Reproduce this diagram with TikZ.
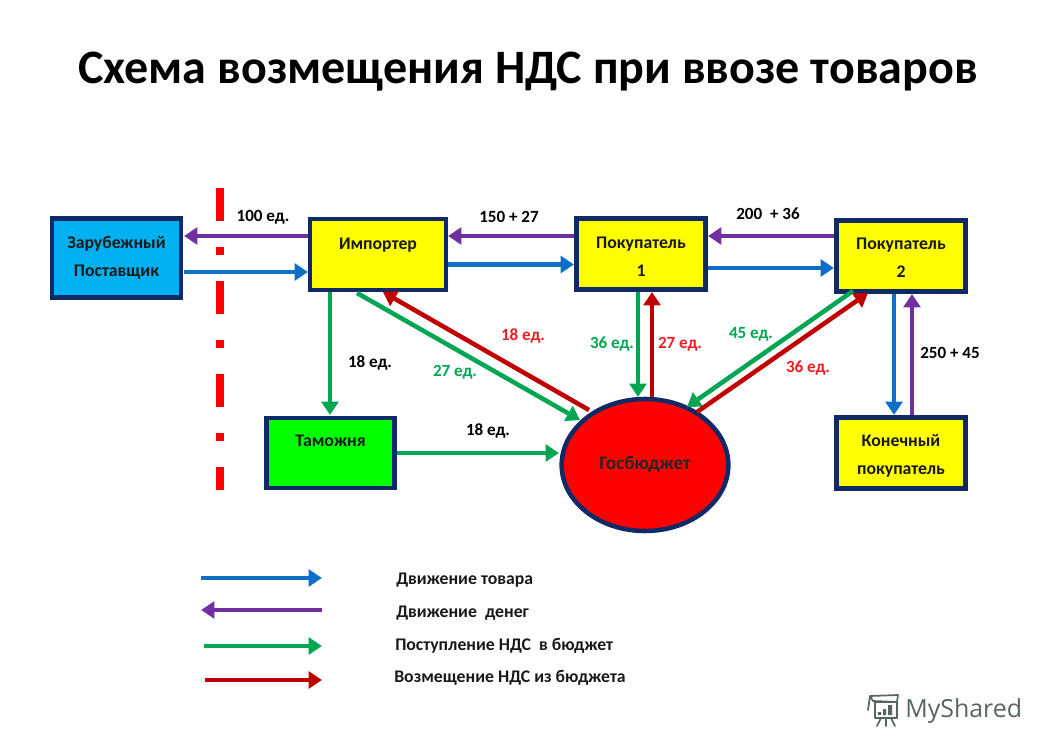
\documentclass[tikz,border=0pt]{standalone}
\usepackage{fontspec}
\setmainfont{Carlito}
\newfontfamily\wmfont{Open Sans}
\usetikzlibrary{arrows.meta,calc,shapes.geometric}
\definecolor{navy}{HTML}{0F2A66}
\definecolor{cpurple}{HTML}{7030A0}
\definecolor{cblue}{HTML}{0F6FC6}
\definecolor{cgreen}{HTML}{00A651}
\definecolor{cdred}{HTML}{C00000}
\definecolor{lred}{HTML}{EE1C25}
\definecolor{sky}{HTML}{00B0F0}
\definecolor{wm}{HTML}{56665F}
\definecolor{fyellow}{HTML}{FFFF00}
\definecolor{flime}{HTML}{00FF00}
\definecolor{fred}{HTML}{FF0000}
\newcommand\dn[1]{\rule{0pt}{#1pt}}
\tikzset{
  pic unit/.style={x=0.75pt,y=-0.75pt},
  box/.style={draw=navy,line width=3.4pt,inner sep=0pt,align=center,font=\fontsize{13.3}{21}\selectfont\bfseries,text=black!90},
  stdbox/.style={box,minimum width=96pt,minimum height=52.5pt},
  wbox/.style={box,minimum width=97pt,minimum height=53.5pt},
  lab/.style={font=\fontsize{12.8}{14}\selectfont\bfseries,inner sep=0pt,text=black},
  leg/.style={font=\fontsize{13.3}{14}\selectfont\bfseries,inner sep=0pt,anchor=west,text=black!90},
  conn/.style={line width=3.4pt,-{Triangle[length=10pt,width=12.5pt]}},
  goods/.style={conn,draw=cblue},
  money/.style={conn,draw=cpurple},
  vatin/.style={conn,draw=cgreen},
  vatout/.style={conn,draw=cdred}
}
\begin{document}
\begin{tikzpicture}[pic unit]
\useasboundingbox (0,0) rectangle (1058,756);
\node[font=\fontsize{36}{42}\selectfont\bfseries,inner sep=0pt] (title) at (528,72) {Схема возмещения НДС при ввозе товаров};
% border line
\coordinate (b1) at (220,188); \coordinate (b2) at (220,490);
\draw[draw=red,line width=5.4pt,dash pattern=on 25.1pt off 19.5pt on 5.6pt off 19.5pt] (b1) -- (b2);
% nodes
\node[wbox,fill=sky,minimum width=97pt,minimum height=59pt] (sup) at (116.5,258) {Зарубежный\\Поставщик};
\node[stdbox,fill=fyellow,minimum width=102pt,minimum height=53pt] (imp) at (378,254.5) {\dn{13}Импортер\\ };
\node[stdbox,fill=flime] (cus) at (330.5,453) {\dn{11}Таможня\\ };
\node[wbox,fill=fyellow] (p1) at (641,254) {\dn{13}Покупатель\\1};
\node[wbox,fill=fyellow] (p2) at (901,256) {\dn{12}Покупатель\\2};
\node[wbox,fill=fyellow] (end) at (901,453) {\dn{14}Конечный\\покупатель};
\node[ellipse,draw=navy,line width=3.4pt,fill=fred,inner sep=0pt,minimum width=125pt,minimum height=99pt,font=\fontsize{14.4}{16}\selectfont\bfseries,text=black!85] (bud) at (645,465) {\raisebox{3pt}{Госбюджет}};
% connectors
\draw[money] ($(imp)+(-70,-18.5)$) -- ($(sup)+(67.5,-22)$);
\draw[goods] ($(sup)+(67.5,14)$) -- ($(imp)+(-70,17.5)$);
\draw[money] ($(p1)+(-67,-18)$) -- ($(imp)+(70,-18.5)$);
\draw[goods] ($(imp)+(70,10)$) -- ($(p1)+(-67,10.5)$);
\draw[money] ($(p2)+(-67,-20)$) -- ($(p1)+(67,-18)$);
\draw[goods] ($(p1)+(67,14)$) -- ($(p2)+(-67,12)$);
\draw[vatin] ($(imp)+(-48,37.5)$) -- ($(cus)+(-0.5,-38)$);
\draw[vatin] ($(cus)+(66.5,0)$) -- ($(bud)+(-86,-12)$);
\draw[vatin] ($(imp)+(-21,38.5)$) -- ($(bud)+(-65,-45)$);
\draw[vatout] ($(bud)+(-56,-55)$) -- ($(imp)+(5,37.5)$);
\draw[vatin] ($(p1)+(-3,38)$) -- ($(bud)+(-7,-68)$);
\draw[vatout] ($(bud)+(7,-68)$) -- ($(p1)+(11,38)$);
\draw[vatin] ($(p2)+(-48,35)$) -- ($(bud)+(42,-58)$);
\draw[vatout] ($(bud)+(52,-53)$) -- ($(p2)+(-33,37)$);
\draw[goods] ($(p2)+(-7,38)$) -- ($(end)+(-7,-38)$);
\draw[money] ($(end)+(11,-38)$) -- ($(p2)+(11,38)$);
% connector labels
\node[lab] (l1) at (263,217.5) {100 ед.};
\node[lab] (l2) at (509,217) {150 + 27};
\node[lab] (l3) at (768,214) {200\ \ + 36};
\node[lab] (l4) at (370,363) {18 ед.};
\node[lab,text=lred] (l5) at (523,336) {18 ед.};
\node[lab,text=cgreen] (l6) at (455,372) {27 ед.};
\node[lab] (l7) at (488,431) {18 ед.};
\node[lab,text=cgreen] (l8) at (612,344) {36 ед.};
\node[lab,text=lred] (l9) at (680,344) {27 ед.};
\node[lab,text=cgreen] (l10) at (751,334) {45 ед.};
\node[lab,text=lred] (l11) at (808,368) {36 ед.};
\node[lab] (l12) at (950,353) {250 + 45};
% legend
\coordinate (g1a) at (201,578); \coordinate (g1b) at (322,578);
\coordinate (g2a) at (322,610); \coordinate (g2b) at (201,610);
\coordinate (g3a) at (204,646); \coordinate (g3b) at (322,646);
\coordinate (g4a) at (205,680); \coordinate (g4b) at (322,680);
\draw[goods] (g1a) -- (g1b);
\draw[money] (g2a) -- (g2b);
\draw[vatin] (g3a) -- (g3b);
\draw[vatout] (g4a) -- (g4b);
\node[leg] (t1) at (396,580) {Движение товара};
\node[leg] (t2) at (396,613) {Движение\ \ денег};
\node[leg] (t3) at (395,646) {Поступление НДС\ \ в бюджет};
\node[leg] (t4) at (394,678) {Возмещение НДС из бюджета};
% watermark
\node[font=\wmfont\fontsize{18.7}{22}\selectfont,text=wm,inner sep=0pt,anchor=west] (wm) at (905,711) {MyShared};
\draw[wm,line width=1.3pt,line cap=round,line join=round]
  (868,710) -- (870,696) -- (898,695) (898,695) -- (897,702) (870,696) -- (873,701) -- (897,702)
  (875,702) rectangle (897,718)
  (881,718) -- (877,726) (886,718) -- (886,726) (891,718) -- (895,726);
\fill[wm] (878,712) rectangle (881,715) (883,709) rectangle (886,715) (888,705) rectangle (892,715);
\end{tikzpicture}
\end{document}
